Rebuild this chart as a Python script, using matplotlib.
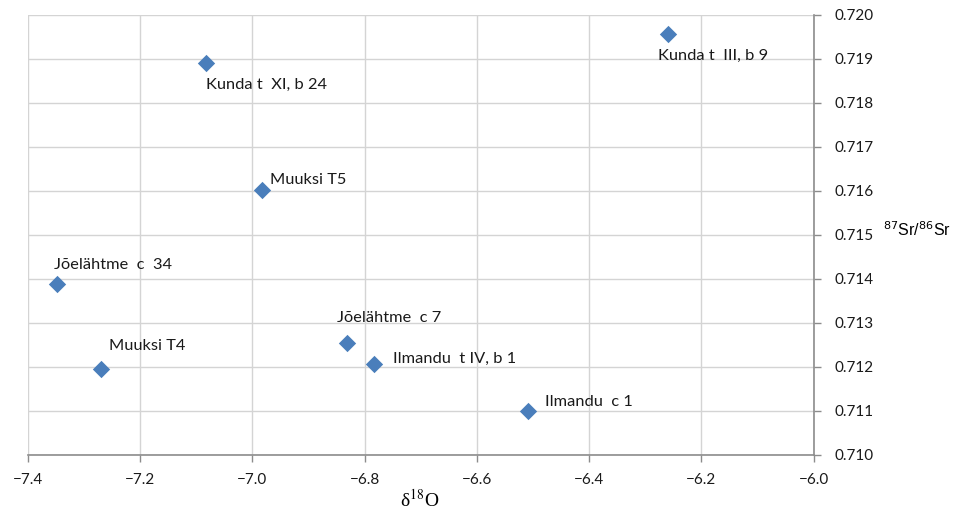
import matplotlib.pyplot as plt

# d18O vs 87Sr/86Sr
labels = ['Kunda t  XI, b 24', 'Kunda t  III, b 9', 'Muuksi T5', 'Jõelähtme  c  34',
          'Muuksi T4', 'Jõelähtme  c 7', 'Ilmandu  t IV, b 1', 'Ilmandu  c 1']
d18o = [-7.083, -6.260, -6.983, -7.348, -7.270, -6.832, -6.784, -6.508]
sr_ratio = [0.71891, 0.71957, 0.71602, 0.71389, 0.71195, 0.71255, 0.71207, 0.71100]

# label offsets (pixels, relative to the marker)
offsets = [(0, -22), (-10, -22), (8, 10), (-3, 19), (8, 23), (-10, 25), (19, 5), (17, 9)]

x_ticks = [-7.4, -7.2, -7.0, -6.8, -6.6, -6.4, -6.2, -6.0]
y_ticks = [0.710 + 0.001 * i for i in range(11)]

fig = plt.figure(figsize=(9.55, 5.11), dpi=100)
ax = fig.add_axes([0.029, 0.110, 0.823, 0.861])

ax.scatter(d18o, sr_ratio, marker='D', s=78, color='#4a7ebb', zorder=3, linewidths=0)

for lab, x, y, (dx, dy) in zip(labels, d18o, sr_ratio, offsets):
    ax.annotate(lab, (x, y), xytext=(dx, dy), textcoords='offset pixels',
                ha='left', va='center', fontsize=11.8, family='Lato', color='#1a1a1a')

ax.set_xlim(-7.4, -6.0)
ax.set_ylim(0.710, 0.720)
ax.set_xticks(x_ticks)
ax.set_xticklabels([f'\u2212{abs(v):.1f}' for v in x_ticks])
ax.set_yticks(y_ticks)
ax.set_yticklabels([f'{v:.3f}' for v in y_ticks])

ax.yaxis.tick_right()
ax.yaxis.set_label_position('right')
for side in ['top', 'left']:
    ax.spines[side].set_visible(False)
for side in ['bottom', 'right']:
    ax.spines[side].set_color('#8c8c8c')
    ax.spines[side].set_linewidth(1.2)

ax.tick_params(axis='both', colors='#8c8c8c', labelcolor='#1a1a1a', labelsize=11,
               length=5, width=1.0)
for t in ax.get_xticklabels() + ax.get_yticklabels():
    t.set_family('Lato')
ax.tick_params(axis='x', pad=8)
ax.tick_params(axis='y', pad=10)

ax.grid(True, color='#d4d4d4', linewidth=1.0)
ax.set_axisbelow(True)

ax.set_xlabel('\u03b4$^{18}$O', fontsize=14, family='Liberation Serif',
              math_fontfamily='stix', va='center')
ax.xaxis.set_label_coords(0.499, -0.102)
ax.set_ylabel(r'$^{87}$Sr/$^{86}$Sr', fontsize=11.5, family='Liberation Sans',
              math_fontfamily='dejavusans', rotation=0, ha='left', va='center')
ax.yaxis.set_label_coords(1.088, 0.511)

fig.savefig('out.png', dpi=100)
